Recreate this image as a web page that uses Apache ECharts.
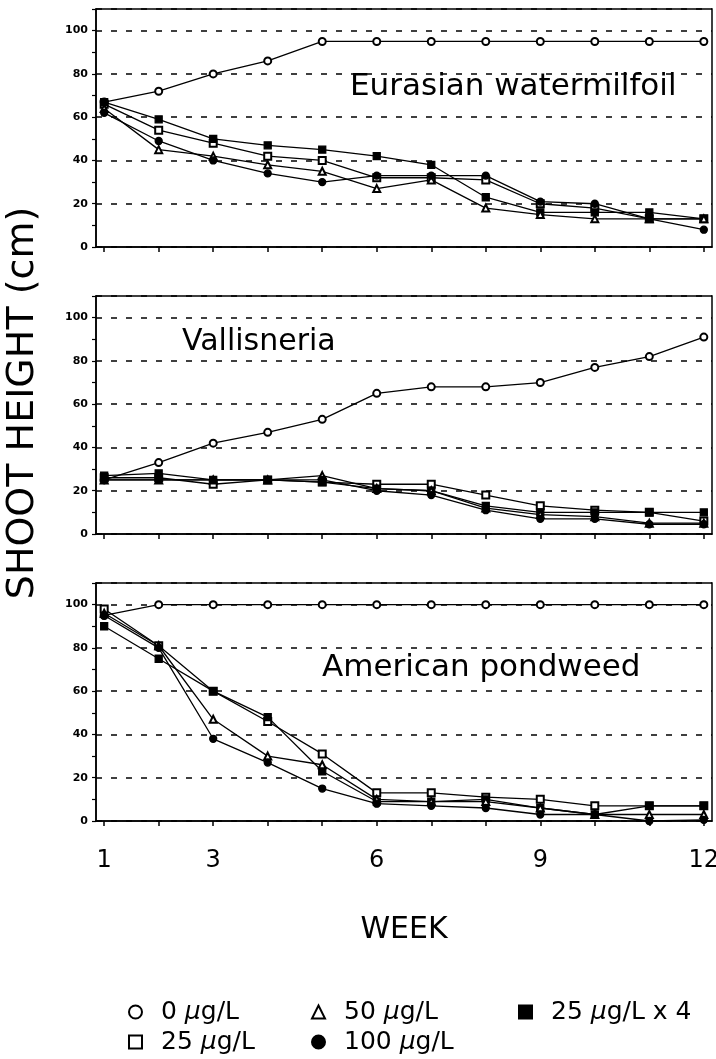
<!DOCTYPE html>
<html><head><meta charset="utf-8">
<script src="https://cdn.jsdelivr.net/npm/echarts@6/dist/echarts.min.js"></script>
<style>html,body{margin:0;padding:0;background:#fff}#c{width:716px;height:1059px}</style>
</head><body><div id="c"></div>
<script>
const weeks = [1,2,3,4,5,6,7,8,9,10,11,12];
const treatments = ['0 μg/L','25 μg/L','25 μg/L x 4','50 μg/L','100 μg/L'];
const symbols = ['emptyCircle','emptyRect','rect','emptyTriangle','circle'];
const panelTitles = ['Eurasian watermilfoil','Vallisneria','American pondweed'];
const xTickLabels = [1,3,6,9,12];
const yTickLabels = [0,20,40,60,80,100];

// Eurasian watermilfoil
const ewm0    = [67,72,80,86,95,95,95,95,95,95,95,95];
const ewm25   = [66,54,48,42,40,32,32,31,20,18,13,13];
const ewm25x4 = [67,59,50,47,45,42,38,23,16,16,16,13];
const ewm50   = [64,45,42,38,35,27,31,18,15,13,13,13];
const ewm100  = [62,49,40,34,30,33,33,33,21,20,13,8];
// Vallisneria
const val0    = [25,33,42,47,53,65,68,68,70,77,82,91];
const val25   = [26,26,23,25,24,23,23,18,13,11,10,6];
const val25x4 = [27,28,25,25,24,21,20,13,10,10,10,10];
const val50   = [25,25,25,25,27,21,20,12,9,8,5,5];
const val100  = [25,25,25,25,25,20,18,11,7,7,4.5,4.5];
// American pondweed
const apw0    = [95,100,100,100,100,100,100,100,100,100,100,100];
const apw25   = [98,81,60,46,31,13,13,11,10,7,7,7];
const apw25x4 = [90,75,60,48,23,9,9,10,6,3,7,7];
const apw50   = [96,81,47,30,26,10,9,9,6,3,3,3];
const apw100  = [95,80,38,27,15,8,7,6,3,3,0,0.5];

const panels = [
  [ewm0, ewm25, ewm25x4, ewm50, ewm100],
  [val0, val25, val25x4, val50, val100],
  [apw0, apw25, apw25x4, apw50, apw100]
];

const FONT = 'DejaVu Sans';
const gridTops = [9, 296, 583];
const grids = gridTops.map(t => ({left: 96, top: t, width: 616, height: 238,
  outerBoundsMode: 'none', containLabel: false,
  show: true, borderColor: '#000', borderWidth: 1.5, backgroundColor: 'transparent'}));

const xAxes = gridTops.map((t, i) => ({
  type: 'value', gridIndex: i, min: 0.85, max: 12.15,
  axisLine: {show: true, lineStyle: {color: '#000', width: 1.5}},
  axisTick: {show: true, customValues: weeks, length: 5, inside: false, lineStyle: {color: '#000', width: 1.5}},
  splitLine: {show: false},
  axisLabel: {show: i === 2, customValues: xTickLabels, color: '#000', fontSize: 24, fontFamily: FONT, margin: 28}
}));

const yAxes = gridTops.map((t, i) => ({
  type: 'value', gridIndex: i, min: 0, max: 110, interval: 20,
  axisLine: {show: true, lineStyle: {color: '#000', width: 1.5}},
  axisTick: {show: true, length: 4, lineStyle: {color: '#000', width: 1.2}},
  minorTick: {show: true, splitNumber: 2, length: 4, lineStyle: {color: '#000', width: 1.2}},
  splitLine: {show: true, lineStyle: {color: '#000', width: 1.5, type: [6, 9]}},
  axisLabel: {customValues: yTickLabels, color: '#000', fontSize: 11, fontWeight: 'bold', fontFamily: FONT, margin: 8}
}));

const series = [];
panels.forEach((vals, p) => {
  vals.forEach((arr, t) => {
    series.push({
      type: 'line', name: treatments[t], xAxisIndex: p, yAxisIndex: p,
      data: weeks.map((w, k) => [w, arr[k]]),
      symbol: symbols[t], symbolSize: 7,
      showAllSymbol: true,
      lineStyle: {color: '#000', width: 1.3},
      itemStyle: {color: '#000', borderColor: '#000', borderWidth: 1.3},
      emphasis: {disabled: true},
      animation: false, z: 3
    });
  });
});

const rich = {
  i: {fontStyle: 'italic', fontSize: 25, fontFamily: FONT, color: '#000', lineHeight: 28},
  n: {fontSize: 25, fontFamily: FONT, color: '#000', lineHeight: 28},
  sp: {width: 14, lineHeight: 28}
};
function fmt(name) {
  const parts = name.split('μ');
  return '{sp| }{n|' + parts[0] + '}{i|μ}{n|' + parts[1] + '}';
}
function makeLegend(names, left) {
  return {
    orient: 'vertical', left: left, top: 998, height: 62, padding: 0, itemGap: 2,
    itemWidth: 13, itemHeight: 13,
    selectedMode: false, formatter: fmt,
    textStyle: {fontSize: 25, fontFamily: FONT, color: '#000', lineHeight: 28, rich: rich},
    data: names.map(n => ({name: n, icon: symbols[treatments.indexOf(n)]}))
  };
}

const option = {
  backgroundColor: '#fff',
  animation: false,
  grid: grids, xAxis: xAxes, yAxis: yAxes, series: series,
  legend: [
    makeLegend(['0 μg/L','25 μg/L'], 128),
    makeLegend(['50 μg/L','100 μg/L'], 311),
    makeLegend(['25 μg/L x 4'], 518)
  ],
  graphic: [
    {type: 'text', left: 350, top: 71, style: {text: panelTitles[0], fontSize: 31, fontFamily: FONT, fill: '#000'}},
    {type: 'text', left: 182, top: 327, style: {text: panelTitles[1], fontSize: 30, fontFamily: FONT, fill: '#000'}},
    {type: 'text', left: 322, top: 652, style: {text: panelTitles[2], fontSize: 31, fontFamily: FONT, fill: '#000'}},
    {type: 'text', x: 23, y: 403, rotation: Math.PI / 2,
      style: {text: 'SHOOT HEIGHT (cm)', fontSize: 38, fontFamily: FONT, fill: '#000', align: 'center', verticalAlign: 'middle'}},
    {type: 'text', x: 404, y: 930,
      style: {text: 'WEEK', fontSize: 30, fontFamily: FONT, fill: '#000', align: 'center', verticalAlign: 'middle'}}
  ]
};
const chart = echarts.init(document.getElementById('c'), null, {renderer: 'canvas'});
chart.setOption(option);
</script></body></html>
